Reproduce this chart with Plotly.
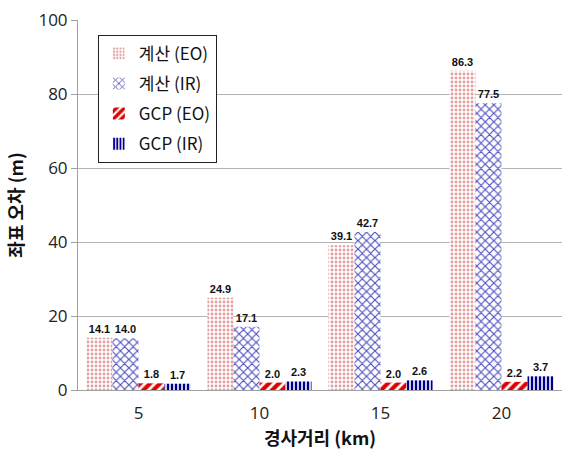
import plotly.graph_objects as go

# Slant range categories (km) and coordinate errors (m)
categories = ["5", "10", "15", "20"]
calc_eo = [14.1, 24.9, 39.1, 86.3]
calc_ir = [14.0, 17.1, 42.7, 77.5]
gcp_eo = [1.8, 2.0, 2.0, 2.2]
gcp_ir = [1.7, 2.3, 2.6, 3.7]

series = [
    ("계산 (EO)", calc_eo, dict(shape=".", fgcolor="#e0a0a0", bgcolor="white", size=4, solidity=0.4, fgopacity=1)),
    ("계산 (IR)", calc_ir, dict(shape="x", fgcolor="#5050c0", bgcolor="white", size=6, solidity=0.35, fgopacity=1)),
    ("GCP (EO)", gcp_eo, dict(shape="/", fgcolor="#dd0000", bgcolor="white", size=7, solidity=0.6, fgopacity=1)),
    ("GCP (IR)", gcp_ir, dict(shape="|", fgcolor="#000090", bgcolor="white", size=4, solidity=0.6, fgopacity=1)),
]

fig = go.Figure()
for name, vals, pat in series:
    fig.add_trace(go.Bar(
        name=name,
        legendgroup=name,
        x=categories,
        y=vals,
        marker=dict(color="white", pattern=pat, line=dict(width=0)),
        text=[f"{v:.1f}" for v in vals],
        textposition="outside",
        cliponaxis=False,
        textfont=dict(family="Liberation Sans", size=11, color="#111111", weight="bold"),
    ))

fig.update_layout(
    width=568,
    height=450,
    margin=dict(l=78, r=6, t=20, b=60),
    paper_bgcolor="white",
    plot_bgcolor="white",
    barmode="group",
    bargap=0.14,
    bargroupgap=0,
    font=dict(family="Open Sans, Noto Sans CJK KR", color="#222222"),
    showlegend=True,
    legend=dict(
        x=0.041, y=0.96, xanchor="left", yanchor="top",
        bordercolor="#222222", borderwidth=1, bgcolor="white",
        font=dict(family="Noto Sans CJK KR", size=17, color="#111111"),
        itemwidth=30, tracegroupgap=5,
    ),
)

fig.update_yaxes(
    range=[0, 100], dtick=20,
    showgrid=True, gridcolor="#b4b4b4", gridwidth=1,
    showline=True, linecolor="#a0a0a0", linewidth=1,
    ticks="outside", ticklen=6, tickcolor="#a0a0a0",
    tickfont=dict(size=17, color="#222222"),
    zeroline=False,
    title=dict(text="좌표 오차 (m)", font=dict(family="Noto Sans CJK KR", size=18, color="#111111", weight="bold"), standoff=10),
)
fig.update_xaxes(
    showline=True, linecolor="#a0a0a0", linewidth=1,
    ticks="", ticklabelstandoff=8,
    tickfont=dict(size=17, color="#222222"),
    title=dict(text="경사거리 (km)", font=dict(family="Noto Sans CJK KR", size=18, color="#111111", weight="bold"), standoff=6),
)

fig.write_html("out.html")
